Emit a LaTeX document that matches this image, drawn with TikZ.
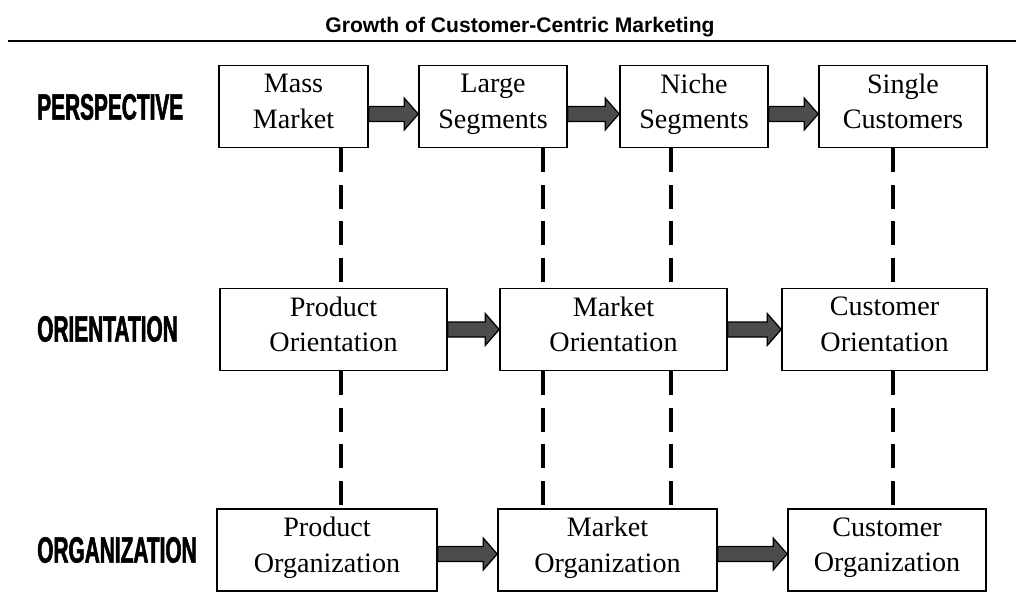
\documentclass[tikz,border=0pt]{standalone}
\usepackage{fontspec}
\setmainfont{Liberation Serif}
\newfontfamily\headfont{Liberation Sans}
\newfontfamily\rowfont{Liberation Sans}[FakeStretch=0.57, BoldFeatures={FakeBold=1.5}]
\usetikzlibrary{calc,positioning}
\definecolor{arrowgray}{gray}{0.3}

\def\pix{0.025cm}

\tikzset{
  stage/.style={rectangle, draw, line width=1.2pt, align=center, inner sep=0pt,
    minimum height=82*\pix, font=\fontsize{20}{25}\selectfont,
    execute at begin node={\strut},
    execute at end node={\rule[-5.5pt]{0pt}{1pt}}},
  rowlabel/.style={anchor=west, inner sep=0pt,
    font=\rowfont\bfseries\fontsize{26}{26}\selectfont},
  dashlink/.style={line width=2.6pt, dash pattern=on 17pt off 9pt},
  fatarrow/.style={draw=black, line width=0.9pt, fill=arrowgray, line join=miter,
    to path={let \p1=(\tikztostart), \p2=(\tikztotarget) in
      (\x1,{\y1+7.5*\pix}) -- ({\x2-14*\pix},{\y1+7.5*\pix}) -- ({\x2-14*\pix},{\y1+16*\pix})
      -- (\x2,\y1) -- ({\x2-14*\pix},{\y1-16*\pix}) -- ({\x2-14*\pix},{\y1-7.5*\pix})
      -- (\x1,{\y1-7.5*\pix}) -- cycle}}
}

\begin{document}
\begin{tikzpicture}[x=\pix, y=-\pix]
  \useasboundingbox (0,0) rectangle (1016,609);

  % heading
  \node (title) at (520,27) {\headfont\bfseries\fontsize{15}{18}\selectfont Growth of Customer-Centric Marketing};
  \draw[line width=2pt] (8,41) -- (1016,41);

  % row labels
  \node[rowlabel] (perspective) at (37,107) {PERSPECTIVE};
  \node[rowlabel] (orientation) at (37,329) {ORIENTATION};
  \node[rowlabel] (organization) at (37,550) {ORGANIZATION};

  % perspective row
  \node[stage, minimum width=149*\pix] (mass) at (293.5,106.5) {Mass\\Market};
  \node[stage, minimum width=148*\pix] (large) at (493,106.5) {Large\\Segments};
  \node[stage, minimum width=148*\pix] (niche) at (694,106.5) {Niche\\Segments};
  \node[stage, minimum width=168*\pix] (single) at (903,106.5) {Single\\Customers};

  % orientation row
  \node[stage, minimum width=227*\pix] (prodori) at (333.5,329.5) {Product\\Orientation};
  \node[stage, minimum width=227*\pix] (mktori) at (613.5,329.5) {Market\\Orientation};
  \node[stage, minimum width=205*\pix] (custori) at (884.5,329.5) {Customer\\Orientation};

  % organization row
  \node[stage, minimum width=220*\pix] (prodorg) at (327,550) {Product\\Organization};
  \node[stage, minimum width=219*\pix] (mktorg) at (607.5,550) {Market\\Organization};
  \node[stage, minimum width=198*\pix] (custorg) at (887,550) {Customer\\Organization};

  % dashed links between the rows
  \coordinate (c1) at (341,0);
  \coordinate (c2) at (543,0);
  \coordinate (c3) at (671,0);
  \coordinate (c4) at (893,0);
  \foreach \up/\mid/\low/\c in {mass/prodori/prodorg/c1, large/mktori/mktorg/c2,
                                niche/mktori/mktorg/c3, single/custori/custorg/c4} {
    \draw[dashlink] (\up.south -| \c) -- (\mid.north -| \c);
    \draw[dashlink] (\mid.south -| \c) -- (\low.north -| \c);
  }

  % block arrows
  \draw[fatarrow] ($(mass.east)+(0,7.5)$) to ($(large.west)+(0,7.5)$);
  \draw[fatarrow] ($(large.east)+(0,7.5)$) to ($(niche.west)+(0,7.5)$);
  \draw[fatarrow] ($(niche.east)+(0,7.5)$) to ($(single.west)+(0,7.5)$);
  \draw[fatarrow] (prodori.east) to (mktori.west);
  \draw[fatarrow] (mktori.east) to (custori.west);
  \draw[fatarrow] ($(prodorg.east)+(0,4)$) to ($(mktorg.west)+(0,4)$);
  \draw[fatarrow] ($(mktorg.east)+(0,4)$) to ($(custorg.west)+(0,4)$);
\end{tikzpicture}
\end{document}
